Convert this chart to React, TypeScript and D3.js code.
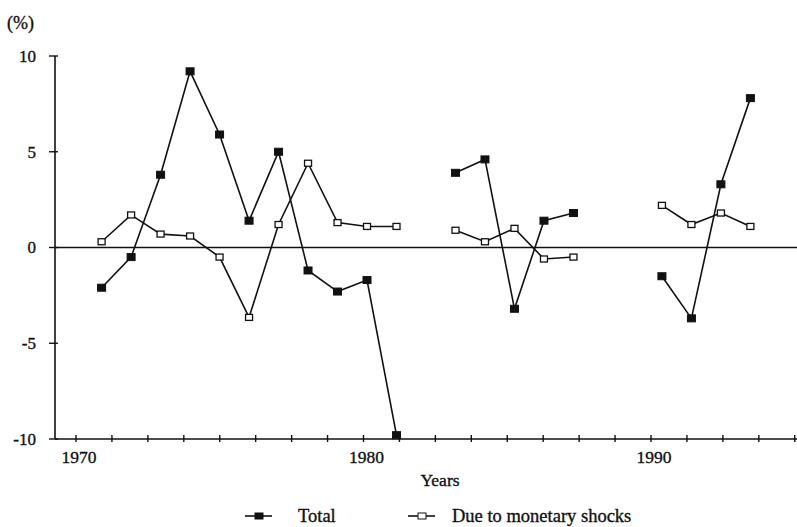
import * as React from 'react';
import { useRef, useEffect } from 'react';
import * as d3 from 'd3';

// years with gaps (null) where no observation is plotted
const years = [1971, 1972, 1973, 1974, 1975, 1976, 1977, 1978, 1979, 1980, 1981, 1982,
  1983, 1984, 1985, 1986, 1987, 1988, 1989, 1990, 1991, 1992, 1993];

const total: (number | null)[] = [-2.1, -0.5, 3.8, 9.2, 5.9, 1.4, 5.0, -1.2, -2.3, -1.7, -9.8, null,
  3.9, 4.6, -3.2, 1.4, 1.8, null, null, -1.5, -3.7, 3.3, 7.8];

const monetary: (number | null)[] = [0.3, 1.7, 0.7, 0.6, -0.5, -3.65, 1.2, 4.4, 1.3, 1.1, 1.1, null,
  0.9, 0.3, 1.0, -0.6, -0.5, null, null, 2.2, 1.2, 1.8, 1.1];

const yTicks = [10, 5, 0, -5, -10];
const xTickLabels = ['1970', '1980', '1990'];

const seriesNames = ['Total', 'Due to monetary shocks'];

const W = 797;
const H = 527;
const FONT = '"Liberation Serif", "DejaVu Serif", serif';

const App: React.FC = () => {
  const svgRef = useRef<SVGSVGElement>(null);

  useEffect(() => {
    if (!svgRef.current) return;
    const svg = d3.select(svgRef.current);
    svg.selectAll('*').remove();

    const margin = { top: 56, right: 0, bottom: 88, left: 55 };
    const plotBottom = H - margin.bottom;

    // data scale (fitted to the plotted points)
    const x = d3.scaleLinear().domain([1969.42, 1994.58]).range([margin.left, W - margin.right]);
    // printed axis calibration (ticks every 1.25 years)
    const xAxisScale = d3.scaleLinear().domain([1970, 1990]).range([76, 651]);
    const y = d3.scaleLinear().domain([-10, 10]).range([plotBottom, margin.top]);

    const ink = '#111';
    const txt = (sel: d3.Selection<SVGTextElement, any, any, any>, size: number) =>
      sel.attr('font-family', FONT)
        .attr('font-size', size)
        .attr('fill', ink)
        .attr('stroke', ink)
        .attr('stroke-width', 0.35);

    // y axis
    svg.append('line')
      .attr('x1', margin.left).attr('x2', margin.left)
      .attr('y1', y(10)).attr('y2', y(-10))
      .attr('stroke', ink).attr('stroke-width', 1.6);

    svg.selectAll('.ytick')
      .data(yTicks)
      .enter()
      .append('line')
      .attr('x1', margin.left - 6).attr('x2', margin.left + 3)
      .attr('y1', d => y(d)).attr('y2', d => y(d))
      .attr('stroke', ink).attr('stroke-width', 1.4);

    txt(svg.selectAll('.ylabel')
      .data(yTicks)
      .enter()
      .append('text')
      .attr('x', 36)
      .attr('y', d => y(d))
      .attr('dy', '0.35em')
      .attr('text-anchor', 'end')
      .text(d => d), 17);

    txt(svg.append('text')
      .attr('x', 7).attr('y', 23)
      .attr('dy', '0.35em')
      .text('(%)'), 18);

    // zero line
    svg.append('line')
      .attr('x1', margin.left).attr('x2', W)
      .attr('y1', y(0)).attr('y2', y(0))
      .attr('stroke', ink).attr('stroke-width', 1.6);

    // x axis
    svg.append('line')
      .attr('x1', margin.left).attr('x2', W)
      .attr('y1', y(-10)).attr('y2', y(-10))
      .attr('stroke', ink).attr('stroke-width', 1.6);

    const xTicks = d3.range(1970, 1995.1, 1.25);
    svg.selectAll('.xtick')
      .data(xTicks)
      .enter()
      .append('line')
      .attr('x1', d => xAxisScale(d)).attr('x2', d => xAxisScale(d))
      .attr('y1', y(-10) - 4).attr('y2', y(-10) + 3)
      .attr('stroke', ink).attr('stroke-width', 1.4);

    txt(svg.selectAll('.xlabel')
      .data(xTickLabels)
      .enter()
      .append('text')
      .attr('x', d => xAxisScale(+d) + 3)
      .attr('y', y(-10) + 24)
      .attr('text-anchor', 'middle')
      .text(d => d), 17.5);

    txt(svg.append('text')
      .attr('x', 440).attr('y', 486)
      .attr('text-anchor', 'middle')
      .text('Years'), 17.5);

    const line = d3.line<number | null>()
      .defined(d => d !== null)
      .x((_, i) => x(years[i]))
      .y(d => y(d as number));

    const drawSeries = (vals: (number | null)[], filled: boolean) => {
      svg.append('path')
        .datum(vals)
        .attr('d', line)
        .attr('fill', 'none')
        .attr('stroke', ink)
        .attr('stroke-width', 1.6);

      const pts = vals.map((v, i) => ({ yr: years[i], v })).filter(p => p.v !== null);
      const s = filled ? 8 : 7;
      svg.append('g')
        .selectAll('rect')
        .data(pts)
        .enter()
        .append('rect')
        .attr('x', d => x(d.yr) - s / 2)
        .attr('y', d => y(d.v as number) - (s - 1) / 2)
        .attr('width', s)
        .attr('height', s - 1)
        .attr('fill', filled ? ink : '#fff')
        .attr('stroke', ink)
        .attr('stroke-width', filled ? 1 : 1.3);
    };

    drawSeries(monetary, false);
    drawSeries(total, true);

    // legend
    const legend = [
      { name: seriesNames[0], filled: true, x0: 245, tx: 298 },
      { name: seriesNames[1], filled: false, x0: 408, tx: 452 },
    ];
    const ly = 516;
    legend.forEach(l => {
      svg.append('line')
        .attr('x1', l.x0).attr('x2', l.x0 + 27)
        .attr('y1', ly).attr('y2', ly)
        .attr('stroke', ink).attr('stroke-width', 1.6);
      svg.append('rect')
        .attr('x', l.x0 + 10).attr('y', ly - 3)
        .attr('width', 8).attr('height', 6)
        .attr('fill', l.filled ? ink : '#fff')
        .attr('stroke', ink).attr('stroke-width', 1);
      txt(svg.append('text')
        .attr('x', l.tx).attr('y', ly)
        .attr('dy', '0.35em')
        .text(l.name), 18.5);
    });
  }, []);

  return (
    <svg
      ref={svgRef}
      width={W}
      height={H}
      style={{ position: 'absolute', left: 0, top: 0, background: '#fff', display: 'block' }}
    />
  );
};

export default App;
